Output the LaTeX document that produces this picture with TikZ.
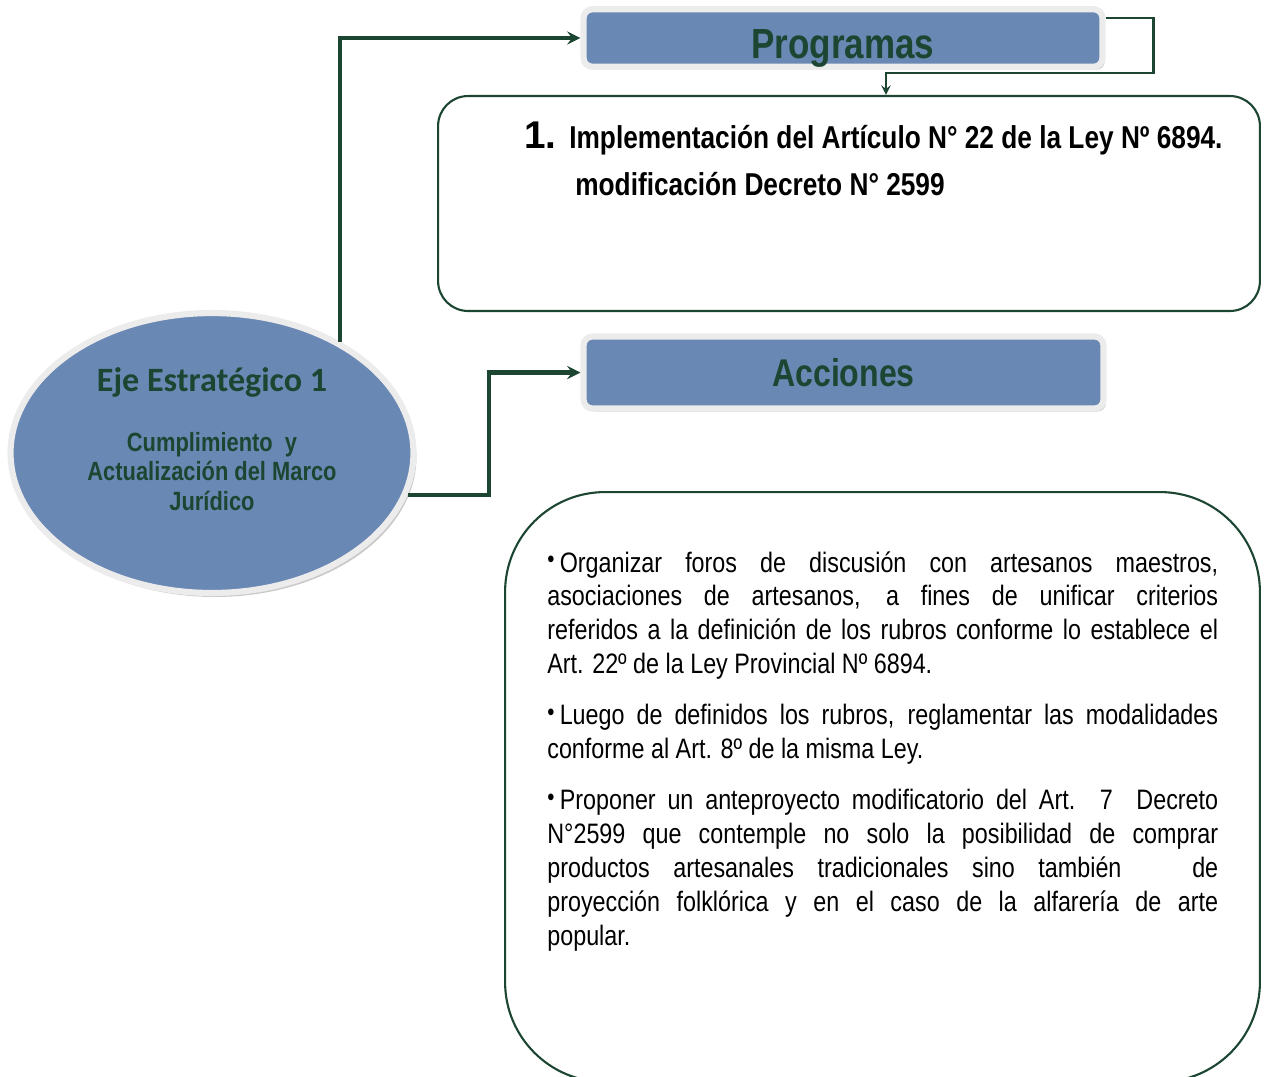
\documentclass[tikz,border=0pt]{standalone}
\usepackage{fontspec}
\setmainfont[FakeStretch=0.83]{Liberation Sans}
\newfontfamily\ejefont{Carlito}
\newfontfamily\numfont{Liberation Sans}
\usetikzlibrary{shapes.geometric, arrows, shadows}
\definecolor{pine}{RGB}{28,70,50}
\definecolor{steel}{RGB}{106,136,180}
\definecolor{halo}{RGB}{236,236,236}
\definecolor{shade}{RGB}{150,150,150}
\newcommand{\dotmark}{{\fontsize{14}{14}\selectfont\raisebox{2.5pt}{\textbullet}}\hspace{3pt}}
\tikzstyle{eje} = [ellipse, minimum width=8.06cm, minimum height=5.6cm, draw=halo, line width=3.5pt, fill=steel, drop shadow={shadow xshift=0.06cm, shadow yshift=-0.08cm, fill=shade}]
\tikzstyle{ejetext} = [inner sep=0pt, align=center, text=pine, font=\bfseries\fontsize{15}{17}\selectfont]
\tikzstyle{heading} = [rectangle, rounded corners=5pt, minimum width=10.38cm, minimum height=1.15cm, draw=halo, line width=3.5pt, fill=steel, text=pine, inner sep=0pt, text depth=0pt, font=\bfseries\fontsize{24}{24}\selectfont, drop shadow={shadow xshift=0.05cm, shadow yshift=-0.06cm, fill=shade}]
\tikzstyle{panel} = [rectangle, draw=pine, line width=1.2pt, fill=white]
\tikzstyle{line} = [anchor=base west, inner sep=0pt, font=\bfseries\fontsize{18}{18}\selectfont]
\tikzstyle{arrow} = [line width=2.3pt, ->, >=stealth, draw=pine]
\tikzstyle{thinarrow} = [line width=1.4pt, ->, >=stealth, draw=pine]

\begin{document}
\begin{tikzpicture}[x=0.02cm, y=-0.02cm]
        \clip (0,0) rectangle (1264,1076);
        \node (node0) [eje] at (212,453) {};
        \node (node0a) [ejetext, anchor=north] at (212,367) {{\ejefont\fontsize{19.4}{22}\selectfont Eje Estratégico 1}\\[17pt]
            Cumplimiento~ y\\ Actualización del Marco\\ Jurídico};
        \node (node1) [heading, text height=22.8pt] at (843,38) {Programas};
        \node (node2) [heading, text height=15.4pt, minimum width=10.4cm, minimum height=1.44cm, font=\bfseries\fontsize{22}{22}\selectfont] at (843.5,372.5) {Acciones};

        \node (node3) [panel, rounded corners=0.6cm, minimum width=16.44cm, minimum height=4.3cm] at (849,203.5) {};
        \node (node3a) [line, font=\numfont\bfseries\fontsize{22}{22}\selectfont] at (524,148) {1.};
        \node (node3b) [line] at (569,148) {Implementación del Artículo N° 22 de la Ley Nº 6894.};
        \node (node3c) [line] at (575,195) {modificación Decreto N° 2599};

        \node (node4) [panel, rounded corners=2cm, minimum width=15.1cm, minimum height=11.8cm] at (882.5,787) {};
        \node (node4a) [anchor=north west, inner sep=0pt, text width=13.42cm, align=justify, font=\fontsize{16}{19.3}\selectfont] at (547,551) {%
            \dotmark Organizar foros de discusión con artesanos maestros,\linebreak
            asociaciones de artesanos, a fines de unificar criterios\linebreak
            referidos a la definición de los rubros conforme lo establece el\linebreak
            Art. 22º de la Ley Provincial Nº 6894.\par\vspace{9.7pt}
            \dotmark Luego de definidos los rubros, reglamentar las modalidades\linebreak
            conforme al Art. 8º de la misma Ley.\par\vspace{9.7pt}
            \dotmark Proponer un anteproyecto modificatorio del Art. 7\ \ Decreto\linebreak
            N°2599 que contemple no solo la posibilidad de comprar\linebreak
            productos artesanales tradicionales sino también\ \ \ de\linebreak
            proyección folklórica y en el caso de la alfarería de arte\linebreak
            popular.};

        \draw [arrow] (node0.41) |- (node1.west);
        \draw [arrow] (node0.-12) -- ++(81,0) |- (node2.west);
        \draw [thinarrow] ([yshift=0.4cm]node1.east) -- ++(48,0) -- ++(0,55) -| ([xshift=0.74cm]node3.north);
    \end{tikzpicture}
\end{document}
